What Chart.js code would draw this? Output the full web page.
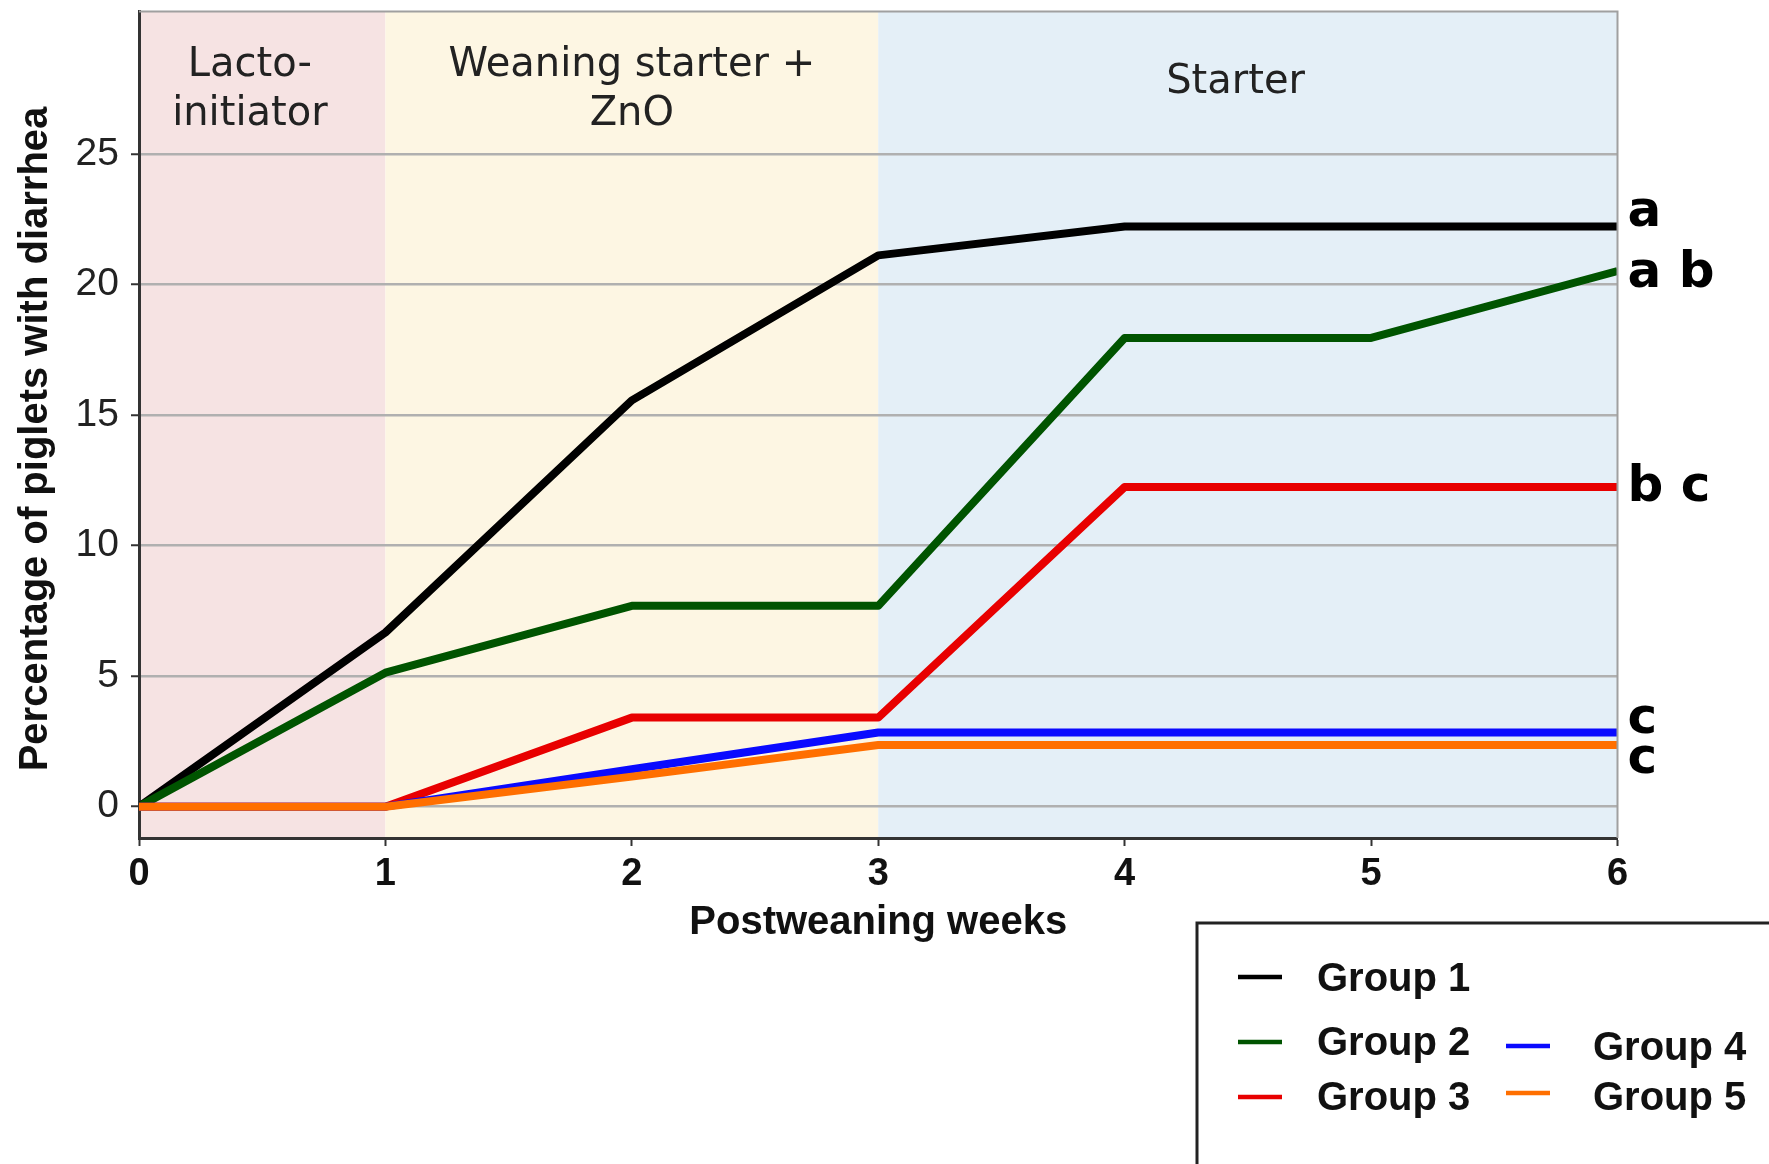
<!DOCTYPE html>
<html>
<head>
<meta charset="utf-8">
<title>Piglets with diarrhea</title>
<script src="https://cdn.jsdelivr.net/npm/chart.js@4/dist/chart.umd.min.js"></script>
<style>
  html, body { margin: 0; padding: 0; background: #ffffff; }
  #wrap { width: 1769px; height: 1164px; }
</style>
</head>
<body>
<div id="wrap"><canvas id="chart" width="1769" height="1164"></canvas></div>
<script>
// Cumulative percentage of piglets with diarrhea per postweaning week
const weeks  = [0, 1, 2, 3, 4, 5, 6];
const group1 = [0, 6.67, 15.56, 21.11, 22.22, 22.22, 22.22];
const group2 = [0, 5.13, 7.69, 7.69, 17.95, 17.95, 20.51];
const group3 = [0, 0, 3.41, 3.41, 12.24, 12.24, 12.24];
const group4 = [0, 0, 1.43, 2.84, 2.84, 2.84, 2.84];
const group5 = [0, 0, 1.15, 2.36, 2.36, 2.36, 2.36];

const groupNames = ['Group 1', 'Group 2', 'Group 3', 'Group 4', 'Group 5'];
const groupLetters = ['a', 'a b', 'b c', 'c', 'c'];

const xTicks = [0, 1, 2, 3, 4, 5, 6];
const yTicks = [0, 5, 10, 15, 20, 25];

const yTitle = 'Percentage of piglets with diarrhea';
const xTitle = 'Postweaning weeks';

// Feeding phases: [start week, end week]
const phaseNames = [['Lacto-', 'initiator'], ['Weaning starter +', 'ZnO'], ['Starter']];
const phaseStart = [0, 1, 3];
const phaseEnd   = [1, 3, 6];

// styling
const lineColors  = ['#000000', '#005400', '#e80000', '#0a0aff', '#ff6f00'];
const phaseColors = ['#f6e3e3', '#fdf6e3', '#e4eff7'];
const phaseLabelX = [0.45, 2.0, 4.45];
const phaseBaselines = [[76, 125], [76, 125], [93]];
const letterOffsets = [0, 16, 14, 0, 28];

const allSeries = [group1, group2, group3, group4, group5];

const datasets = allSeries.map((vals, i) => ({
  label: groupNames[i],
  data: weeks.map((w, j) => ({ x: w, y: vals[j] })),
  borderColor: lineColors[i],
  backgroundColor: lineColors[i],
  borderWidth: 8,
  pointRadius: 0,
  tension: 0,
  fill: false,
  borderJoinStyle: 'round',
  order: allSeries.length - i
}));

const phasePlugin = {
  id: 'phases',
  beforeDraw(chart) {
    const { ctx, chartArea, scales } = chart;
    ctx.save();
    phaseStart.forEach((s, i) => {
      const x0 = scales.x.getPixelForValue(s);
      const x1 = scales.x.getPixelForValue(phaseEnd[i]);
      ctx.fillStyle = phaseColors[i];
      ctx.fillRect(x0, chartArea.top, x1 - x0, chartArea.bottom - chartArea.top);
    });
    ctx.restore();
  },
  beforeDatasetsDraw(chart) {
    const { ctx, scales } = chart;
    ctx.save();
    ctx.fillStyle = '#222222';
    ctx.font = '40px "DejaVu Sans"';
    ctx.textAlign = 'center';
    ctx.textBaseline = 'alphabetic';
    phaseNames.forEach((lines, i) => {
      const cx = scales.x.getPixelForValue(phaseLabelX[i]);
      lines.forEach((t, k) => {
        ctx.fillText(t, cx, phaseBaselines[i][k]);
      });
    });
    ctx.restore();
  }
};

const framePlugin = {
  id: 'frame',
  afterDraw(chart) {
    const { ctx, chartArea, scales } = chart;
    ctx.save();
    // light top and right frame
    ctx.strokeStyle = '#a0a0a0';
    ctx.lineWidth = 2;
    ctx.beginPath();
    ctx.moveTo(chartArea.left, chartArea.top);
    ctx.lineTo(chartArea.right, chartArea.top);
    ctx.lineTo(chartArea.right, chartArea.bottom);
    ctx.stroke();

    // y axis title
    ctx.save();
    ctx.translate(36, 439);
    ctx.rotate(-Math.PI / 2);
    ctx.fillStyle = '#111111';
    ctx.font = 'bold 40px "Liberation Sans", Arial, sans-serif';
    ctx.textAlign = 'center';
    ctx.textBaseline = 'middle';
    ctx.fillText(yTitle, 0, 0);
    ctx.restore();

    // significance letters at the end of each line
    ctx.fillStyle = '#000000';
    ctx.font = 'bold 50px "DejaVu Sans"';
    ctx.textAlign = 'left';
    ctx.textBaseline = 'alphabetic';
    allSeries.forEach((vals, i) => {
      const py = scales.y.getPixelForValue(vals[vals.length - 1]);
      ctx.fillText(groupLetters[i], chartArea.right + 10, py + letterOffsets[i]);
    });

    // legend box
    const lx = 1197, ly = 923;
    ctx.fillStyle = '#ffffff';
    ctx.fillRect(lx, ly, 1769 - lx + 10, 1164 - ly + 10);
    ctx.strokeStyle = '#222222';
    ctx.lineWidth = 3;
    ctx.strokeRect(lx, ly, 1769 - lx + 20, 1164 - ly + 20);

    const items = [
      { x: 1238, y: 977,  tx: 1317, ty: 991 },
      { x: 1238, y: 1042, tx: 1317, ty: 1055 },
      { x: 1238, y: 1097, tx: 1317, ty: 1110 },
      { x: 1506, y: 1046, tx: 1593, ty: 1060 },
      { x: 1506, y: 1093, tx: 1593, ty: 1110 }
    ];
    ctx.font = 'bold 40px "Liberation Sans", Arial, sans-serif';
    items.forEach((it, i) => {
      ctx.strokeStyle = lineColors[i];
      ctx.lineWidth = 4.5;
      ctx.beginPath();
      ctx.moveTo(it.x, it.y);
      ctx.lineTo(it.x + 44, it.y);
      ctx.stroke();
      ctx.fillStyle = '#111111';
      ctx.fillText(groupNames[i], it.tx, it.ty);
    });
    ctx.restore();
  }
};

new Chart(document.getElementById('chart'), {
  type: 'line',
  data: { datasets },
  plugins: [phasePlugin, framePlugin],
  options: {
    responsive: false,
    animation: false,
    events: [],
    layout: { padding: { top: 11.5, right: 151.5, left: 0, bottom: 0 } },
    plugins: {
      legend: { display: false },
      tooltip: { enabled: false }
    },
    scales: {
      x: {
        type: 'linear',
        min: 0,
        max: 6,
        afterBuildTicks(scale) { scale.ticks = xTicks.map(v => ({ value: v })); },
        afterFit(scale) {
          scale.height = 326;
          scale.paddingLeft = 0;
          scale.paddingRight = 0;
        },
        grid: {
          drawOnChartArea: false,
          drawTicks: true,
          tickLength: 8,
          tickColor: '#333333',
          tickWidth: 2
        },
        border: { display: true, color: '#333333', width: 3 },
        ticks: {
          color: '#111111',
          padding: 6,
          maxRotation: 0,
          font: { family: '"Liberation Sans", Arial, sans-serif', size: 38, weight: 'bold' }
        },
        title: {
          display: true,
          text: xTitle,
          color: '#111111',
          padding: { top: 0, bottom: 217 },
          font: { family: '"Liberation Sans", Arial, sans-serif', size: 40, weight: 'bold' }
        }
      },
      y: {
        type: 'linear',
        min: -1.2,
        max: 30.45,
        afterBuildTicks(scale) { scale.ticks = yTicks.map(v => ({ value: v })); },
        afterFit(scale) {
          scale.width = 139;
          scale.paddingTop = 0;
          scale.paddingBottom = 0;
        },
        grid: {
          color: '#b0b0b0',
          lineWidth: 2.5,
          drawTicks: true,
          tickLength: 8,
          tickColor: '#333333',
          tickWidth: 2
        },
        border: { display: true, color: '#333333', width: 3 },
        ticks: {
          color: '#222222',
          padding: 12,
          font: { family: '"Liberation Sans", Arial, sans-serif', size: 39 }
        },
        title: { display: false }
      }
    }
  }
});
</script>
</body>
</html>
